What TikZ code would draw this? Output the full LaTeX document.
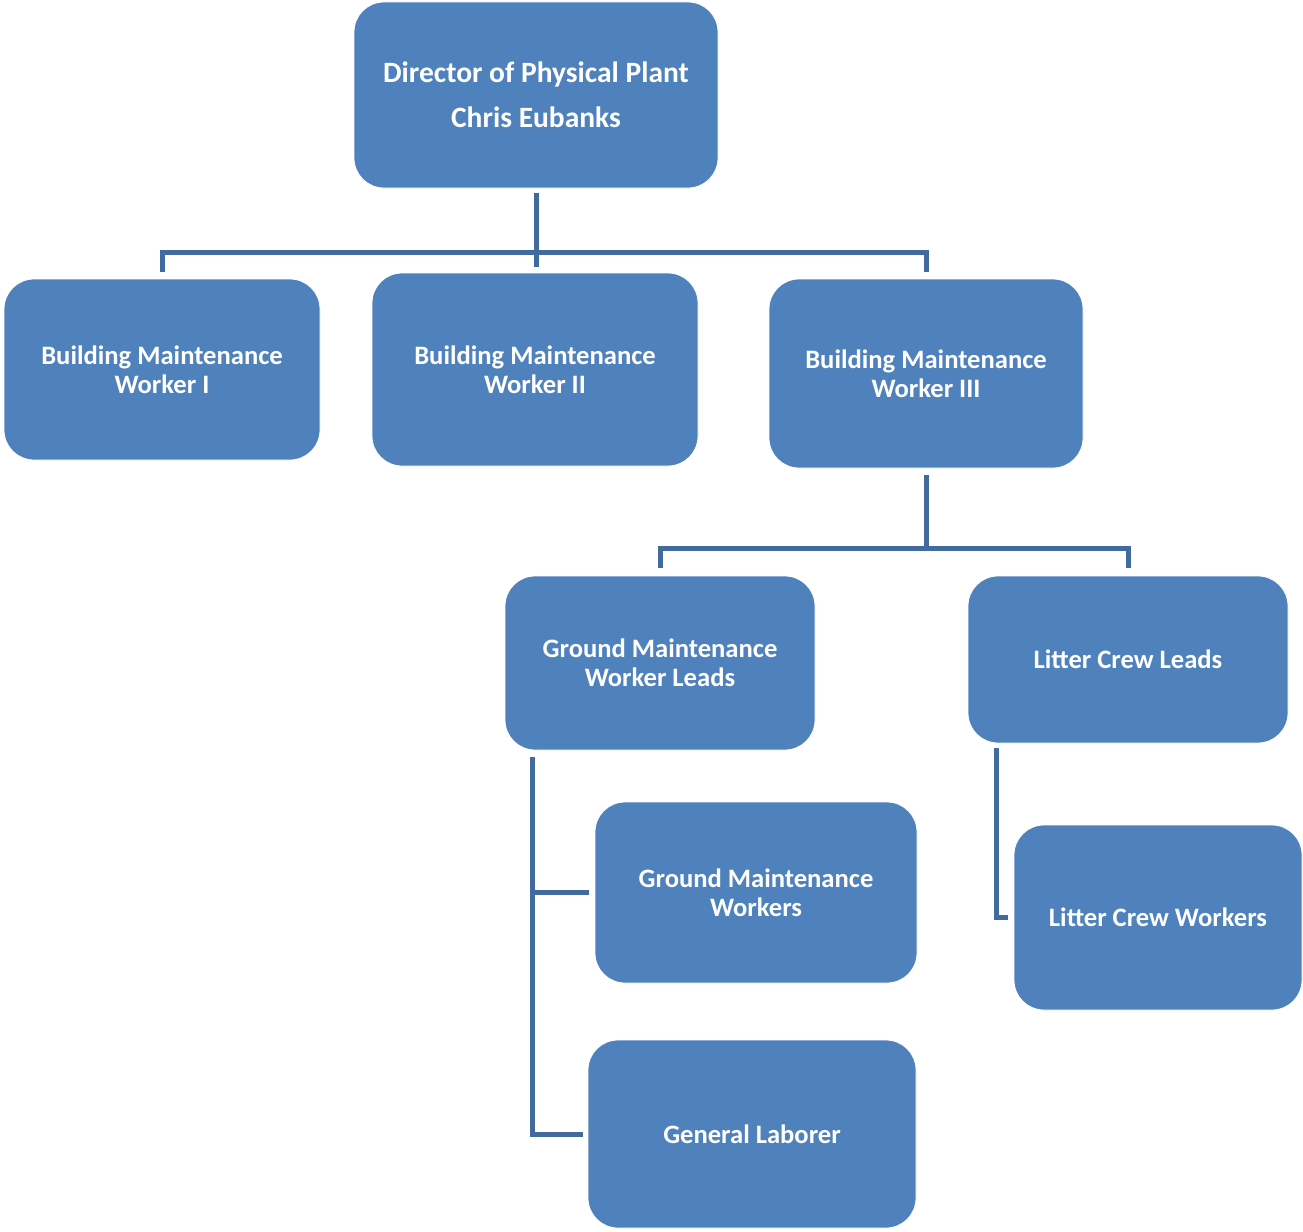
\documentclass[tikz,border=0pt]{standalone}
\usepackage{fontspec}
\setmainfont{Carlito}
\usetikzlibrary{calc}
\definecolor{boxfill}{RGB}{79,129,189}
\definecolor{linkblue}{RGB}{65,107,158}
\tikzset{
  orgbox/.style={rectangle, rounded corners=30pt, fill=boxfill, draw=white, line width=0.8pt,
    text=white, align=center, inner sep=0pt,
    font=\fontsize{26.6}{29}\selectfont\bfseries},
  topfont/.style={font=\fontsize{29.5}{30}\selectfont\bfseries},
  link/.style={draw=linkblue, line width=5pt}
}
\begin{document}
\begin{tikzpicture}[x=1pt,y=-1pt]
\useasboundingbox (0,0) rectangle (1303,1231);

% boxes
\node[orgbox, topfont, minimum width=364pt, minimum height=186pt] (dir) at (536,95)
  {Director of Physical Plant\\[15pt]Chris Eubanks};
\node[orgbox, minimum width=316pt, minimum height=181pt] (b1) at (162,369.5)
  {Building Maintenance\\Worker I};
\node[orgbox, minimum width=326pt, minimum height=193pt] (b2) at (535,369.5)
  {Building Maintenance\\Worker II};
\node[orgbox, minimum width=314pt, minimum height=189pt] (b3) at (926,373.5)
  {Building Maintenance\\Worker III};
\node[orgbox, minimum width=310pt, minimum height=174pt] (gl) at (660,663)
  {Ground Maintenance\\Worker Leads};
\node[orgbox, minimum width=320pt, minimum height=167pt] (lcl) at (1128,659.5)
  {Litter Crew Leads};
\node[orgbox, minimum width=322pt, minimum height=181pt] (gw) at (756,892.5)
  {Ground Maintenance\\Workers};
\node[orgbox, minimum width=328pt, minimum height=188pt] (lab) at (752,1134)
  {General Laborer};
\node[orgbox, minimum width=288pt, minimum height=185pt] (lcw) at (1158,917.5)
  {Litter Crew Workers};

% director to the three building maintenance workers
\coordinate (bus1) at ($(dir.south)+(0,64)$);
\draw[link] ($(dir.south)+(0,5)$) -- ($(dir.south |- b2.north)+(0,-6)$);
\draw[link] ($(b1.north)+(0,-7)$) |- (bus1) -| ($(b3.north)+(0,-7)$);

% worker III to the two lead positions
\coordinate (bus2) at ($(b3.south)+(0,80)$);
\draw[link] ($(b3.south)+(0,7)$) -- (bus2);
\draw[link] ($(gl.north)+(0,-8)$) |- (bus2) -| ($(lcl.north)+(0,-8)$);

% ground maintenance leads to their staff
\coordinate (gtrunk) at ($(gl.south west)+(28,7)$);
\draw[link] (gtrunk) |- ($(lab.west)+(-5,0)$);
\draw[link] (gtrunk |- gw.west) -- ($(gw.west)+(-6,0)$);

% litter crew leads to litter crew workers
\draw[link] ($(lcl.south west)+(29,5)$) |- ($(lcw.west)+(-6,0)$);
\end{tikzpicture}
\end{document}
